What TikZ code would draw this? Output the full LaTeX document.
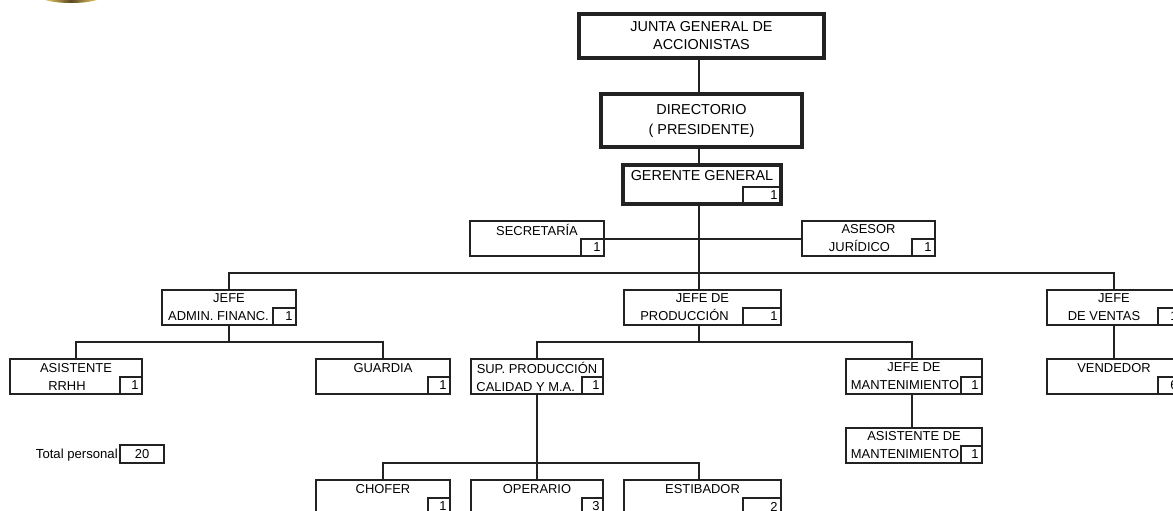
\documentclass[tikz,border=0pt]{standalone}
\usepackage{fontspec}
\setmainfont{Liberation Sans}
\definecolor{inkline}{HTML}{222222}
\definecolor{crestgold}{HTML}{E8C868}
\definecolor{crestdark}{HTML}{5A4A20}
\tikzset{
  conn/.style={line width=1.1pt, color=inkline},
  unitbox/.style={draw=inkline, line width=1.1pt, inner sep=0pt, outer sep=0pt, align=center,
    font=\fontsize{9.7}{13.5}\selectfont, minimum height=26.25pt, minimum width=#1*0.75pt},
  headbox/.style={unitbox=#1, line width=2.4pt, font=\fontsize{10.8}{13.5}\selectfont},
  countbox/.style={draw=inkline, line width=1.1pt, inner xsep=2.5pt, inner ysep=0pt, outer sep=0pt,
    align=right, anchor=south east, font=\fontsize{9.7}{10}\selectfont,
    minimum height=12.75pt, text width=#1*0.75pt-5pt}
}
\begin{document}
\begin{tikzpicture}[x=0.75pt,y=-0.75pt]
      \clip (0,0) rectangle (1173,510);
      \useasboundingbox (0,0) rectangle (1173,510);
      \shade [left color=crestgold, right color=crestgold, middle color=crestdark] (45,0) .. controls (58,4) and (84,4) .. (97,0) -- cycle;
      \coordinate (trunk) at (699,204);
      \coordinate (topbus) at (699,273);
      \coordinate (adminbus) at (229,342);
      \coordinate (prodbus) at (699,342);
      \coordinate (mantline) at (912,394);
      \coordinate (supbus) at (537,463);
      \node [headbox=245, minimum height=33pt] (junta) at (701.5,36) {JUNTA GENERAL DE\\ACCIONISTAS};
      \node [headbox=201, minimum height=39.75pt] (directorio) at (701.5,120.5) {DIRECTORIO\\[1.5pt]( PRESIDENTE)};
      \node [headbox=158, minimum height=29.25pt] (gerente) at (702,184.5) {GERENTE GENERAL\\~};
      \node [countbox=38] (gerenten) at (gerente.south east) {1};
      \node [unitbox=134] (secretaria) at (537,238.5) {SECRETARÍA\\~};
      \node [countbox=23] (secretarian) at (secretaria.south east) {1};
      \node [unitbox=133] (asesor) at (868.5,238.5) {ASESOR\\JURÍDICO\hspace*{13.5pt}};
      \node [countbox=23] (asesorn) at (asesor.south east) {1};
      \node [unitbox=134] (admin) at (229,307.5) {JEFE\\ADMIN. FINANC.\hspace*{15.75pt}};
      \node [countbox=23] (adminn) at (admin.south east) {1};
      \node [unitbox=157] (produccion) at (702.5,307.5) {JEFE DE\\PRODUCCIÓN\hspace*{27pt}};
      \node [countbox=38] (produccionn) at (produccion.south east) {1};
      \node [unitbox=134] (ventas) at (1114,307.5) {JEFE\\DE VENTAS\hspace*{15pt}};
      \node [countbox=23] (ventasn) at (ventas.south east) {1};
      \node [unitbox=132] (rrhh) at (76,376.5) {ASISTENTE\\RRHH\hspace*{13.5pt}};
      \node [countbox=22] (rrhhn) at (rrhh.south east) {1};
      \node [unitbox=134] (guardia) at (383,376.5) {GUARDIA\\~};
      \node [countbox=22] (guardian) at (guardia.south east) {1};
      \node [unitbox=132] (sup) at (537,376.5) {SUP. PRODUCCIÓN\\CALIDAD Y M.A.\hspace*{17pt}};
      \node [countbox=21] (supn) at (sup.south east) {1};
      \node [unitbox=136] (mant) at (914,376.5) {JEFE DE\\MANTENIMIENTO\hspace*{13.5pt}};
      \node [countbox=21] (mantn) at (mant.south east) {1};
      \node [unitbox=134] (vendedor) at (1114,376.5) {VENDEDOR\\~};
      \node [countbox=23] (vendedorn) at (vendedor.south east) {6};
      \node [unitbox=136] (asistmant) at (914,445.5) {ASISTENTE DE\\MANTENIMIENTO\hspace*{13.5pt}};
      \node [countbox=21] (asistmantn) at (asistmant.south east) {1};
      \node [unitbox=134] (chofer) at (383,497.5) {CHOFER\\~};
      \node [countbox=22] (chofern) at (chofer.south east) {1};
      \node [unitbox=132] (operario) at (537,497.5) {OPERARIO\\~};
      \node [countbox=21] (operarion) at (operario.south east) {3};
      \node [unitbox=157] (estibador) at (702.5,497.5) {ESTIBADOR\\~};
      \node [countbox=38] (estibadorn) at (estibador.south east) {2};
      \node [draw=inkline, line width=1.1pt, inner sep=0pt, outer sep=0pt, font=\fontsize{9.7}{10}\selectfont, minimum width=33pt, minimum height=13.5pt] (total) at (142,454) {20};
      \node [anchor=east, inner sep=0pt, font=\fontsize{9.85}{10}\selectfont] (totallabel) at (118,455) {Total personal};
      \draw [conn] (junta.south -| trunk) to (directorio.north -| trunk);
      \draw [conn] (directorio.south -| trunk) to (gerente.north -| trunk);
      \draw [conn] (gerente.south -| trunk) to (produccion.north -| trunk);
      \draw [conn] (secretarian.north east) to (asesor.west |- secretarian.north east);
      \draw [conn] (admin.north) |- (topbus) -| (ventas.north);
      \draw [conn] (admin.south) to (adminbus);
      \draw [conn] (rrhh.north) |- (adminbus) -| (guardia.north);
      \draw [conn] (produccion.south -| trunk) to (prodbus);
      \draw [conn] (sup.north) |- (prodbus) -| (mant.north -| mantline);
      \draw [conn] (mant.south -| mantline) to (asistmant.north -| mantline);
      \draw [conn] (ventas.south) to (vendedor.north);
      \draw [conn] (sup.south) to (operario.north);
      \draw [conn] (chofer.north) |- (supbus) -| (estibador.north -| trunk);
\end{tikzpicture}
\end{document}
